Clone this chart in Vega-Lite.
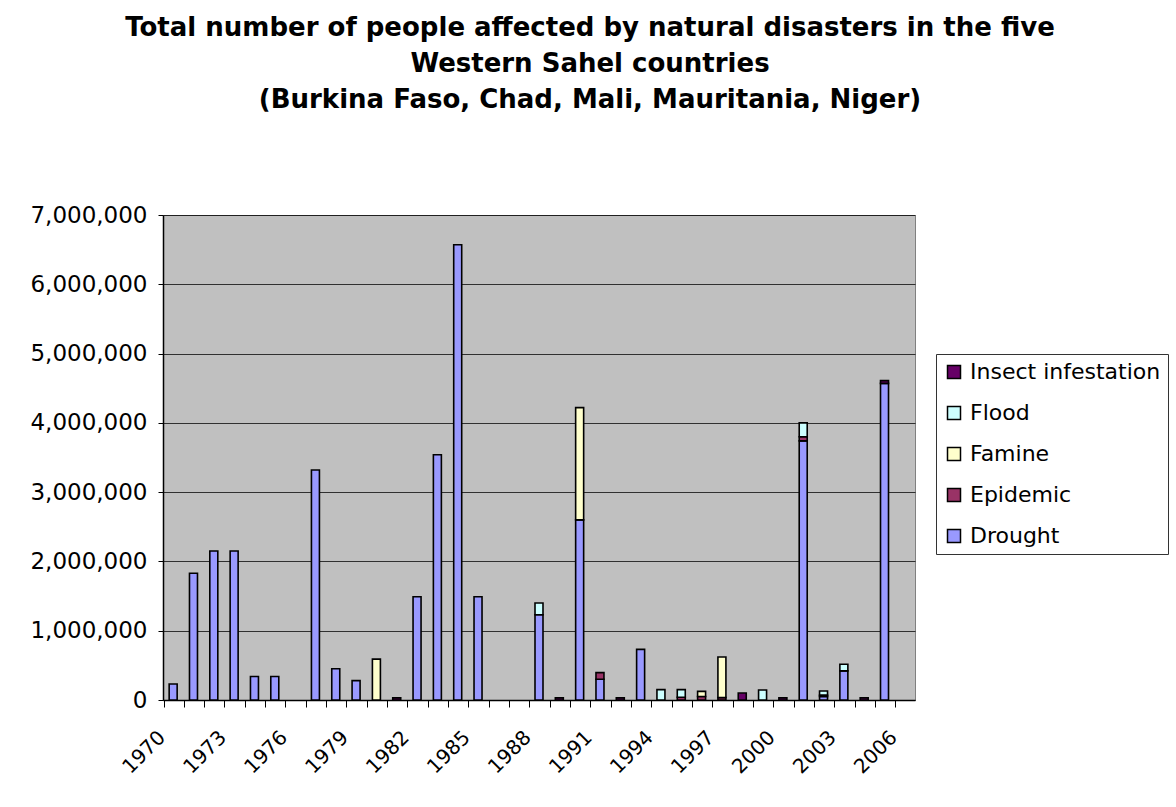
{
  "$schema": "https://vega.github.io/schema/vega-lite/v6.json",
  "width": 752,
  "height": 485,
  "autosize": {"type": "none"},
  "padding": {"left": 163, "top": 215, "right": 261, "bottom": 107},
  "background": "white",
  "title": {
    "text": [
      "Total number of people affected by natural disasters in the five",
      "Western Sahel countries",
      "(Burkina Faso, Chad, Mali, Mauritania, Niger)"
    ],
    "font": "DejaVu Sans",
    "fontSize": 26,
    "fontWeight": "bold",
    "lineHeight": 36,
    "color": "black",
    "anchor": "middle",
    "dx": 51,
    "offset": 91
  },
  "data": {
    "values": [
      {"year": "1970", "type": "Drought", "people": 230000},
      {"year": "1971", "type": "Drought", "people": 1830000},
      {"year": "1972", "type": "Drought", "people": 2150000},
      {"year": "1973", "type": "Drought", "people": 2150000},
      {"year": "1974", "type": "Drought", "people": 340000},
      {"year": "1975", "type": "Drought", "people": 340000},
      {"year": "1977", "type": "Drought", "people": 3320000},
      {"year": "1978", "type": "Drought", "people": 450000},
      {"year": "1979", "type": "Drought", "people": 280000},
      {"year": "1980", "type": "Famine", "people": 590000},
      {"year": "1981", "type": "Insect infestation", "people": 30000},
      {"year": "1982", "type": "Drought", "people": 1490000},
      {"year": "1983", "type": "Drought", "people": 3540000},
      {"year": "1984", "type": "Drought", "people": 6570000},
      {"year": "1985", "type": "Drought", "people": 1490000},
      {"year": "1988", "type": "Drought", "people": 1230000},
      {"year": "1988", "type": "Flood", "people": 170000},
      {"year": "1989", "type": "Insect infestation", "people": 30000},
      {"year": "1990", "type": "Drought", "people": 2600000},
      {"year": "1990", "type": "Famine", "people": 1620000},
      {"year": "1991", "type": "Drought", "people": 300000},
      {"year": "1991", "type": "Epidemic", "people": 95000},
      {"year": "1992", "type": "Insect infestation", "people": 30000},
      {"year": "1993", "type": "Drought", "people": 730000},
      {"year": "1994", "type": "Flood", "people": 150000},
      {"year": "1995", "type": "Epidemic", "people": 40000},
      {"year": "1995", "type": "Flood", "people": 110000},
      {"year": "1996", "type": "Epidemic", "people": 50000},
      {"year": "1996", "type": "Famine", "people": 75000},
      {"year": "1997", "type": "Epidemic", "people": 35000},
      {"year": "1997", "type": "Famine", "people": 585000},
      {"year": "1998", "type": "Insect infestation", "people": 100000},
      {"year": "1999", "type": "Flood", "people": 145000},
      {"year": "2000", "type": "Insect infestation", "people": 30000},
      {"year": "2001", "type": "Drought", "people": 3740000},
      {"year": "2001", "type": "Epidemic", "people": 60000},
      {"year": "2001", "type": "Flood", "people": 200000},
      {"year": "2002", "type": "Drought", "people": 50000},
      {"year": "2002", "type": "Epidemic", "people": 20000},
      {"year": "2002", "type": "Flood", "people": 60000},
      {"year": "2003", "type": "Drought", "people": 420000},
      {"year": "2003", "type": "Flood", "people": 95000},
      {"year": "2004", "type": "Insect infestation", "people": 30000},
      {"year": "2005", "type": "Drought", "people": 4570000},
      {"year": "2005", "type": "Insect infestation", "people": 40000}
    ]
  },
  "mark": {"type": "bar", "size": 8, "stroke": "black", "strokeWidth": 1.6},
  "encoding": {
    "x": {
      "field": "year",
      "type": "ordinal",
      "scale": {
        "domain": ["1970","1971","1972","1973","1974","1975","1976","1977","1978","1979","1980","1981","1982","1983","1984","1985","1986","1987","1988","1989","1990","1991","1992","1993","1994","1995","1996","1997","1998","1999","2000","2001","2002","2003","2004","2005","2006"]
      },
      "axis": {
        "title": null,
        "labelAngle": -45,
        "bandPosition": 0,
        "labelOffset": -18,
        "labelExpr": "(toNumber(datum.value) - 1970) % 3 == 0 ? datum.label : ''",
        "tickSize": 7,
        "labelPadding": 20,
        "labelFontSize": 20
      }
    },
    "y": {
      "field": "people",
      "type": "quantitative",
      "aggregate": "sum",
      "stack": "zero",
      "scale": {"domain": [0, 7000000], "nice": false},
      "axis": {
        "title": null,
        "values": [0, 1000000, 2000000, 3000000, 4000000, 5000000, 6000000, 7000000],
        "format": ",d",
        "grid": true,
        "gridColor": "black",
        "gridOpacity": 0.75,
        "gridWidth": 1,
        "tickSize": 5,
        "labelPadding": 11,
        "labelFontSize": 23
      }
    },
    "color": {
      "field": "type",
      "type": "nominal",
      "scale": {
        "domain": ["Insect infestation", "Flood", "Famine", "Epidemic", "Drought"],
        "range": ["#660066", "#CCFFFF", "#FFFFCC", "#993366", "#9999FF"]
      },
      "legend": {
        "title": null,
        "orient": "none",
        "legendX": 773,
        "legendY": 139
      }
    },
    "order": {"field": "type", "sort": "ascending"}
  },
  "config": {
    "view": {"fill": "#C0C0C0", "stroke": "#808080", "strokeWidth": 1},
    "axis": {
      "labelFont": "DejaVu Sans",
      "labelColor": "black",
      "domainColor": "black",
      "domainWidth": 1.5,
      "tickColor": "black",
      "tickWidth": 1
    },
    "legend": {
      "strokeColor": "#333333",
      "fillColor": "white",
      "padding": 7,
      "labelFont": "DejaVu Sans",
      "labelFontSize": 22,
      "labelColor": "black",
      "labelOffset": 5,
      "labelLimit": 0,
      "symbolType": "square",
      "symbolSize": 169,
      "symbolStrokeColor": "black",
      "symbolStrokeWidth": 1.5,
      "symbolOpacity": 1,
      "rowPadding": 19
    }
  }
}
